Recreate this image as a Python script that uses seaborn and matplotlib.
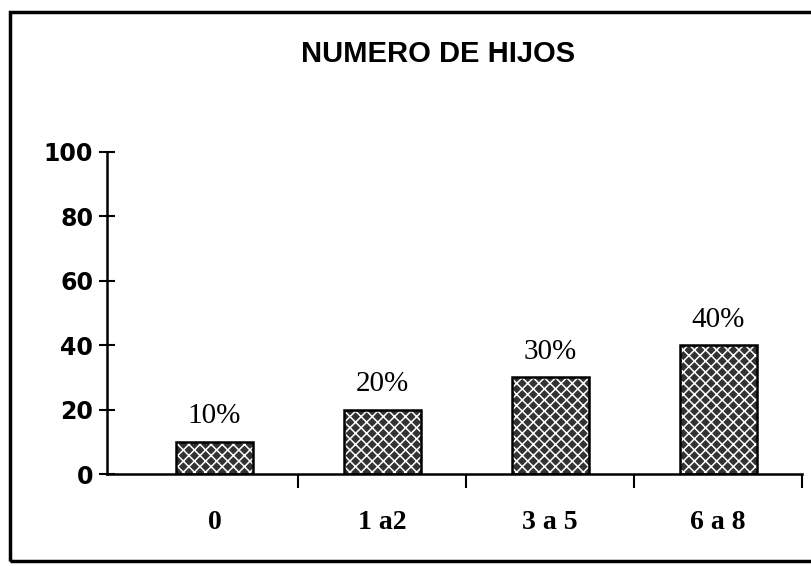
import pandas as pd
import seaborn as sns
import matplotlib.pyplot as plt
from matplotlib.patches import Rectangle

# Datos del grafico
categorias = ['0', '1 a2', '3 a 5', '6 a 8']
porcentajes = [10, 20, 30, 40]
etiquetas = ['10%', '20%', '30%', '40%']
titulo = 'NUMERO DE HIJOS'

df = pd.DataFrame({'hijos': categorias, 'pct': porcentajes})

sns.set_style('white')
plt.rcParams['hatch.linewidth'] = 1.1
plt.rcParams['text.color'] = 'black'

fig = plt.figure(figsize=(8.11, 5.66), dpi=100)
ax = fig.add_axes([0.132, 0.1625, 0.857, 0.569])

# relleno oscuro con cruces blancas
sns.barplot(data=df, x='hijos', y='pct', color='#333333', width=0.46,
            edgecolor='white', linewidth=0, hatch='xxx', saturation=1, ax=ax)
# contorno negro
sns.barplot(data=df, x='hijos', y='pct', fill=False, width=0.46,
            edgecolor='black', linewidth=1.8, ax=ax)

ax.bar_label(ax.containers[0], labels=etiquetas, padding=9,
             family='Liberation Serif', fontsize=21, color='black')

ax.set_ylim(0, 100)
ax.set_xlim(-0.64, 3.5)
ax.set_yticks([0, 20, 40, 60, 80, 100])
ax.set_xticks([0, 1, 2, 3])
ax.set_xticklabels(categorias, family='Liberation Serif', fontweight='bold',
                   fontsize=20, color='black')
for t in ax.get_yticklabels():
    t.set_family('DejaVu Sans')
    t.set_fontweight('bold')
    t.set_fontsize(17)
    t.set_color('black')
ax.tick_params(axis='y', left=True, direction='inout', length=12, width=1.5,
               pad=4, color='black')
ax.tick_params(axis='x', which='major', bottom=True, length=0, pad=26)
# marcas entre categorias
ax.set_xticks([0.5, 1.5, 2.5, 3.5], minor=True)
ax.tick_params(axis='x', which='minor', bottom=True, direction='out',
               length=10, width=1.5, color='black')
ax.set_xlabel('')
ax.set_ylabel('')

sns.despine(ax=ax)
ax.spines['left'].set_linewidth(1.8)
ax.spines['bottom'].set_linewidth(1.8)
ax.spines['left'].set_color('black')
ax.spines['bottom'].set_color('black')

fig.text(0.54, 0.905, titulo, ha='center', va='center', family='Liberation Sans',
         fontweight='bold', fontsize=21, color='black')

# marco de la figura
fig.patches.append(Rectangle((0.012, 0.008), 0.99, 0.97, transform=fig.transFigure,
                             fill=False, edgecolor='black', linewidth=2.5))

fig.savefig('out.png', dpi=100)
